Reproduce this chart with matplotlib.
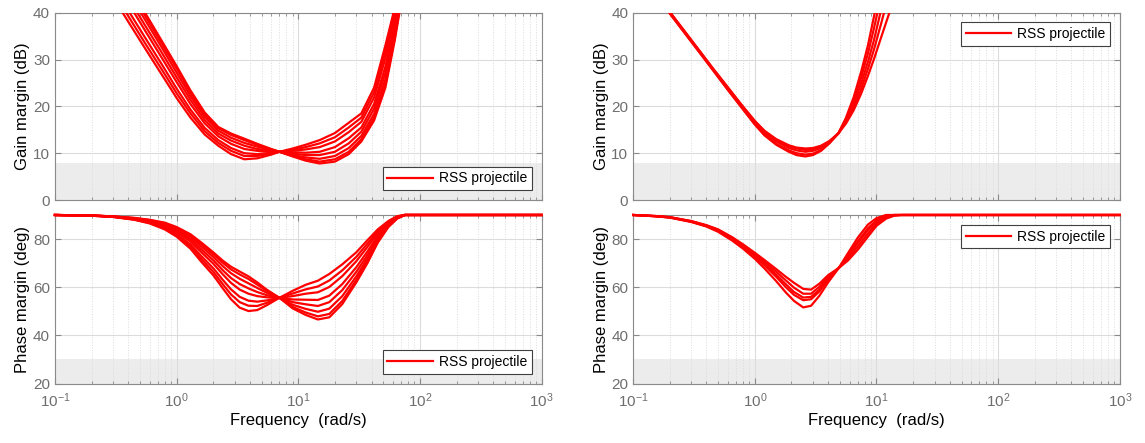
"""
Gain / phase margin sweep of the RSS projectile (values read off the figure)
"""

import matplotlib
matplotlib.use('Agg')
from matplotlib import pyplot as plt

plt.rcParams['font.family'] = ['Liberation Sans', 'DejaVu Sans']
plt.rcParams['mathtext.default'] = 'regular'

# ---- left column: frequency grids (rad/s) ----
freq_gain_left = [0.3, 0.4, 0.55, 0.75, 1.0, 1.3, 1.7, 2.2, 2.8, 3.6, 4.6, 6.0,
                  7.0, 9.0, 11.5, 15, 20, 26, 33, 42, 52, 62, 72]
gain_left = [
    [43.3, 38.1, 32.4, 26.9, 21.8, 17.6, 14.0, 11.6, 9.8, 8.7, 8.9, 9.7,
     10.3, 11.0, 11.8, 12.8, 14.3, 16.5, 18.5, 24.0, 33.0, 41.0, 50.0],
    [44.6, 39.3, 33.5, 28.0, 22.8, 18.5, 14.7, 12.2, 10.5, 9.4, 9.4, 9.9,
     10.3, 10.7, 11.3, 12.1, 13.4, 15.5, 17.6, 23.0, 31.7, 40.0, 49.1],
    [45.9, 40.5, 34.7, 29.1, 23.8, 19.3, 15.4, 12.8, 11.1, 10.0, 9.8, 10.1,
     10.3, 10.5, 10.8, 11.3, 12.5, 14.5, 16.7, 21.9, 30.3, 38.9, 48.2],
    [47.7, 42.1, 36.2, 30.5, 25.2, 20.5, 16.4, 13.6, 12.0, 10.9, 10.5, 10.3,
     10.3, 10.2, 10.1, 10.3, 11.3, 13.2, 15.5, 20.5, 28.5, 37.5, 47.0],
    [49.0, 43.2, 37.3, 31.6, 26.2, 21.4, 17.1, 14.2, 12.7, 11.6, 10.9, 10.5,
     10.3, 9.9, 9.6, 9.6, 10.3, 12.1, 14.6, 19.5, 27.2, 36.5, 46.1],
    [50.3, 44.4, 38.5, 32.7, 27.2, 22.2, 17.8, 14.8, 13.3, 12.2, 11.4, 10.7,
     10.3, 9.6, 9.1, 8.8, 9.4, 11.1, 13.7, 18.4, 25.8, 35.4, 45.2],
    [51.3, 45.4, 39.4, 33.5, 28.1, 22.9, 18.3, 15.3, 13.9, 12.8, 11.8, 10.8,
     10.3, 9.4, 8.7, 8.2, 8.7, 10.3, 13.0, 17.6, 24.7, 34.6, 44.5],
    [52.0, 46.0, 40.0, 34.1, 28.6, 23.4, 18.7, 15.6, 14.2, 13.1, 12.0, 10.9,
     10.3, 9.3, 8.4, 7.8, 8.2, 9.8, 12.5, 17.0, 24.0, 34.0, 44.0],
]

freq_phase_left = [0.1, 0.2, 0.3, 0.45, 0.6, 0.8, 1.0, 1.3, 1.6, 2.0, 2.4, 2.8,
                   3.3, 3.9, 4.6, 5.5, 7.0, 9.0, 11.5, 14.5, 18, 23, 30, 37,
                   45, 55, 65, 75, 1000]
phase_left = [
    [90, 89.7, 89.2, 88.0, 86.5, 84.0, 81.0, 76.0, 70.5, 65.0, 59.5, 55.0,
     51.5, 50.1, 50.5, 52.5, 55.6, 58.5, 61.0, 62.7, 65.5, 69.5, 74.5, 79.5,
     84.0, 87.5, 89.5, 90, 90],
    [90, 89.7, 89.2, 88.1, 86.7, 84.4, 81.6, 76.9, 71.7, 66.4, 61.2, 57.0,
     53.8, 52.3, 52.2, 53.5, 55.6, 57.4, 59.1, 60.3, 62.8, 67.0, 72.6, 78.1,
     83.2, 87.1, 89.4, 90, 90],
    [90, 89.7, 89.3, 88.2, 87.0, 84.8, 82.2, 77.8, 72.9, 67.9, 63.0, 59.1,
     56.0, 54.4, 54.0, 54.5, 55.6, 56.3, 57.3, 57.9, 60.1, 64.6, 70.8, 76.7,
     82.4, 86.8, 89.2, 90, 90],
    [90, 89.8, 89.3, 88.4, 87.3, 85.4, 83.0, 79.0, 74.5, 69.8, 65.3, 61.8,
     59.0, 57.3, 56.3, 55.8, 55.6, 54.9, 54.8, 54.7, 56.5, 61.3, 68.3, 74.8,
     81.3, 86.3, 89.0, 90, 90],
    [90, 89.8, 89.3, 88.5, 87.5, 85.8, 83.6, 79.9, 75.7, 71.2, 67.0, 63.8,
     61.3, 59.5, 58.0, 56.7, 55.6, 53.8, 52.9, 52.2, 53.8, 58.8, 66.4, 73.3,
     80.4, 85.9, 88.9, 90, 90],
    [90, 89.8, 89.4, 88.6, 87.7, 86.2, 84.2, 80.8, 76.9, 72.6, 68.7, 65.8,
     63.5, 61.6, 59.7, 57.7, 55.6, 52.7, 51.0, 49.8, 51.1, 56.3, 64.5, 71.9,
     79.6, 85.5, 88.7, 90, 90],
    [90, 89.8, 89.4, 88.7, 87.9, 86.6, 84.7, 81.5, 77.9, 73.7, 70.1, 67.4,
     65.3, 63.4, 61.1, 58.5, 55.6, 51.8, 49.5, 47.9, 48.9, 54.3, 63.0, 70.8,
     78.9, 85.2, 88.6, 90, 90],
    [90, 89.8, 89.4, 88.8, 88.0, 86.8, 85.0, 82.0, 78.5, 74.5, 71.0, 68.5,
     66.5, 64.5, 62.0, 59.0, 55.6, 51.2, 48.5, 46.6, 47.5, 53.0, 62.0, 70.0,
     78.5, 85.0, 88.5, 90, 90],
]

# ---- right column ----
freq_gain_right = [0.17, 0.2, 0.25, 0.33, 0.45, 0.6, 0.78, 1.0, 1.2, 1.5, 1.9,
                   2.2, 2.6, 3.0, 3.5, 4.1, 4.85, 5.6, 6.5, 7.5, 8.5, 9.5, 11,
                   12.5, 14]
gain_right = [
    [42.2, 39.8, 36.5, 32.4, 27.8, 23.5, 19.7, 16.1, 13.8, 11.8, 10.3, 9.6,
     9.3, 9.6, 10.5, 12.1, 14.2, 17.5, 22.0, 27.5, 33.0, 39.0, 47.0, 54.0, 60.0],
    [42.3, 39.9, 36.6, 32.5, 27.9, 23.6, 19.8, 16.3, 14.0, 12.0, 10.6, 10.0,
     9.7, 9.9, 10.7, 12.2, 14.2, 17.2, 21.3, 26.3, 31.3, 36.5, 44.0, 51.0, 57.0],
    [42.4, 40.0, 36.7, 32.6, 28.0, 23.8, 20.0, 16.6, 14.4, 12.5, 11.1, 10.6,
     10.3, 10.5, 11.1, 12.4, 14.2, 16.9, 20.5, 25.0, 29.5, 34.0, 41.0, 47.5, 53.0],
    [42.5, 40.1, 36.8, 32.7, 28.1, 23.9, 20.2, 16.8, 14.6, 12.8, 11.5, 11.0,
     10.7, 10.8, 11.4, 12.5, 14.2, 16.6, 19.8, 23.8, 28.0, 32.0, 38.0, 43.5, 48.5],
    [42.6, 40.2, 36.9, 32.8, 28.2, 24.1, 20.3, 16.9, 14.8, 13.0, 11.7, 11.2,
     11.0, 11.1, 11.6, 12.6, 14.2, 16.3, 19.2, 22.8, 26.5, 30.0, 35.0, 39.3, 43.0],
]

freq_phase_right = [0.1, 0.15, 0.2, 0.3, 0.4, 0.5, 0.65, 0.8, 1.0, 1.2, 1.5,
                    1.8, 2.1, 2.5, 2.9, 3.4, 4.0, 4.9, 5.8, 7.0, 8.5, 10, 12,
                    14, 16, 1000]
phase_right = [
    [90, 89.5, 88.9, 87.1, 85.2, 83.0, 79.4, 76.0, 71.8, 67.8, 62.5, 57.8,
     54.3, 51.6, 52.3, 56.5, 62.0, 68.0, 74.0, 80.5, 86.0, 88.7, 90, 90, 90, 90],
    [90, 89.5, 89.0, 87.2, 85.4, 83.4, 79.9, 76.7, 72.8, 69.1, 64.3, 60.0,
     56.8, 54.6, 55.0, 58.3, 63.1, 68.0, 73.0, 79.0, 84.5, 87.8, 89.7, 90, 90, 90],
    [90, 89.5, 89.0, 87.3, 85.5, 83.6, 80.2, 77.0, 73.3, 69.8, 65.2, 61.2,
     58.0, 55.7, 56.0, 59.0, 63.6, 68.0, 72.5, 78.2, 83.7, 87.3, 89.5, 90, 90, 90],
    [90, 89.6, 89.1, 87.4, 85.6, 83.8, 80.5, 77.4, 73.8, 70.6, 66.4, 62.8,
     59.8, 57.3, 57.3, 60.2, 64.3, 68.0, 71.8, 76.8, 82.3, 86.4, 89.0, 89.9, 90, 90],
    [90, 89.6, 89.1, 87.5, 85.8, 84.0, 80.8, 77.8, 74.3, 71.3, 67.5, 64.3,
     61.8, 59.3, 59.0, 61.5, 65.0, 68.0, 71.0, 75.5, 81.0, 85.5, 88.5, 89.7, 90, 90],
]

gain_limit = 8      # dB, shaded requirement band
phase_limit = 30    # deg
legend_label = 'RSS projectile'

TICK_GREY = '#6e6e6e'
SPINE_GREY = '#8a8a8a'


def style_axes(ax, ylim, yticks, band_top):
    ax.set_xscale('log')
    ax.set_xlim(0.1, 1000)
    ax.set_ylim(*ylim)
    ax.set_yticks(yticks)
    ax.axhspan(ylim[0], band_top, color='#ececec', lw=0, zorder=0)
    ax.set_axisbelow(True)
    ax.grid(True, which='major', color='#dcdcdc', lw=0.8)
    ax.grid(True, which='minor', axis='x', color='#dcdcdc', lw=0.7, ls=':')
    ax.tick_params(which='both', direction='in', top=True, right=True,
                   colors=SPINE_GREY, labelcolor=TICK_GREY, labelsize=11)
    ax.tick_params(which='major', length=4)
    ax.tick_params(which='minor', length=2)
    ax.tick_params(axis='x', which='major', pad=6)
    for s in ax.spines.values():
        s.set_color(SPINE_GREY)
        s.set_linewidth(0.8)


def add_legend(ax, loc):
    leg = ax.legend(loc=loc, fontsize=10, fancybox=False, framealpha=1,
                    edgecolor='#404040', handlelength=3.3, borderpad=0.35,
                    borderaxespad=0.7, handletextpad=0.4)
    leg.get_frame().set_linewidth(0.8)


fig = plt.figure(figsize=(11.45, 4.43), dpi=100)
W = 0.425
ax_gl = fig.add_axes([0.048, 0.5485, W, 0.4228])
ax_pl = fig.add_axes([0.048, 0.1343, W, 0.3804])
ax_gr = fig.add_axes([0.553, 0.5485, W, 0.4228])
ax_pr = fig.add_axes([0.553, 0.1343, W, 0.3804])

panels = [
    (ax_gl, freq_gain_left, gain_left, True),
    (ax_pl, freq_phase_left, phase_left, False),
    (ax_gr, freq_gain_right, gain_right, True),
    (ax_pr, freq_phase_right, phase_right, False),
]
for ax, f, curves, is_gain in panels:
    for i, y in enumerate(curves):
        ax.plot(f, y, color='#ff0000', lw=1.6,
                label=legend_label if i == 0 else None,
                clip_on=is_gain, zorder=3)
    if is_gain:
        style_axes(ax, (0, 40), [0, 10, 20, 30, 40], gain_limit)
        ax.set_ylabel('Gain margin (dB)', fontsize=12)
        ax.tick_params(labelbottom=False)
    else:
        style_axes(ax, (20, 90), [20, 40, 60, 80], phase_limit)
        ax.set_ylabel('Phase margin (deg)', fontsize=12)
        ax.set_xlabel('Frequency  (rad/s)', fontsize=12, labelpad=2)
    ax.yaxis.labelpad = 2

add_legend(ax_gl, 'lower right')
add_legend(ax_pl, 'lower right')
add_legend(ax_gr, 'upper right')
add_legend(ax_pr, 'upper right')

plt.savefig('out.png', dpi=100, facecolor='white')
plt.close()
